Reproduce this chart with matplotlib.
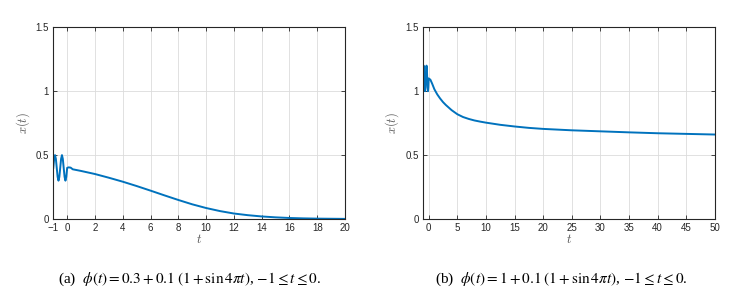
import numpy as np
import matplotlib.pyplot as plt

plt.rcParams['mathtext.fontset'] = 'stix'
plt.rcParams['font.family'] = ['Liberation Sans', 'DejaVu Sans']

# ---- data ----
# (a) history on [-1, 0] then solution
t_a = [-1.0, -0.9375, -0.875, -0.8125, -0.75, -0.6875, -0.625, -0.5625, -0.5,
       -0.4375, -0.375, -0.3125, -0.25, -0.1875, -0.125, -0.0625, 0.0,
       0.1, 0.25, 0.4, 1.0, 2.0, 3.0, 4.0, 5.0, 6.0, 7.0, 8.0, 9.0, 10.0,
       11.0, 12.0, 13.0, 14.0, 15.0, 16.0, 17.0, 18.0, 19.0, 20.0]
x_a = [0.40, 0.47, 0.50, 0.47, 0.40, 0.33, 0.30, 0.33, 0.40,
       0.47, 0.50, 0.47, 0.40, 0.33, 0.30, 0.33, 0.40,
       0.404, 0.402, 0.389, 0.376, 0.352, 0.323, 0.292, 0.258, 0.222, 0.185,
       0.149, 0.115, 0.086, 0.062, 0.043, 0.030, 0.020, 0.013, 0.008, 0.005,
       0.003, 0.002, 0.001]

# (b) history on [-1, 0] then solution
t_b = [-1.0, -0.9375, -0.875, -0.8125, -0.75, -0.6875, -0.625, -0.5625, -0.5,
       -0.4375, -0.375, -0.3125, -0.25, -0.1875, -0.125, -0.0625, 0.0,
       0.3, 0.6, 1.0, 1.5, 2.0, 2.5, 3.0, 4.0, 5.0, 6.0, 7.0, 8.0, 9.0, 10.0,
       12.5, 15.0, 17.5, 20.0, 25.0, 30.0, 35.0, 40.0, 45.0, 50.0]
x_b = [1.10, 1.17, 1.20, 1.17, 1.10, 1.03, 1.00, 1.03, 1.10,
       1.17, 1.20, 1.17, 1.10, 1.03, 1.00, 1.03, 1.10,
       1.09, 1.06, 1.015, 0.975, 0.943, 0.915, 0.892, 0.852, 0.820, 0.798,
       0.783, 0.771, 0.762, 0.754, 0.737, 0.724, 0.713, 0.705, 0.694, 0.686,
       0.678, 0.671, 0.666, 0.661]

ticks_a = [-1, 0, 2, 4, 6, 8, 10, 12, 14, 16, 18, 20]
ticks_b = [0, 5, 10, 15, 20, 25, 30, 35, 40, 45, 50]
yticks = [0, 0.5, 1, 1.5]

captions = [r'(a)  $\phi(t) = 0.3 + 0.1\;(1 + \sin 4\pi t)$, $-1 \leq t \leq 0$.',
            r'(b)  $\phi(t) = 1 + 0.1\;(1 + \sin 4\pi t)$, $-1 \leq t \leq 0$.']

LINE = '#0072BD'
DARK = '#262626'

fig = plt.figure(figsize=(7.42, 2.97), dpi=100)
ax1 = fig.add_axes([0.0718, 0.2626, 0.3932, 0.6455])
ax2 = fig.add_axes([0.570, 0.2626, 0.3935, 0.6455])


def style(ax, xlim, xticks):
    ax.set_xlim(*xlim)
    ax.set_ylim(0, 1.5)
    ax.set_xticks(xticks)
    ax.set_yticks(yticks)
    ax.set_xticklabels([f'{v:g}'.replace('-', '\u2212') for v in xticks])
    ax.set_yticklabels([f'{v:g}' for v in yticks])
    ax.grid(True, color='#dcdcdc', linewidth=0.6)
    ax.set_axisbelow(True)
    ax.tick_params(direction='in', length=3, width=0.6, top=True, right=True,
                   labelsize=7, colors=DARK, pad=3)
    for s in ax.spines.values():
        s.set_color(DARK)
        s.set_linewidth(0.8)
    ax.set_xlabel(r'$t$', fontsize=9, color='#555555', labelpad=0,
                  math_fontfamily='cm')
    ax.set_ylabel(r'$x(t)$', fontsize=9, color='#555555', labelpad=3,
                  math_fontfamily='cm')


ax1.plot(t_a, x_a, color=LINE, linewidth=1.4)
style(ax1, (-1, 20), ticks_a)

ax2.plot(t_b, x_b, color=LINE, linewidth=1.4)
style(ax2, (-1, 50), ticks_b)

fig.text(0.256, 0.06, captions[0], ha='center', va='center', fontsize=11,
         family='Liberation Serif')
fig.text(0.757, 0.06, captions[1], ha='center', va='center', fontsize=11,
         family='Liberation Serif')

fig.savefig('out.png', dpi=100)
